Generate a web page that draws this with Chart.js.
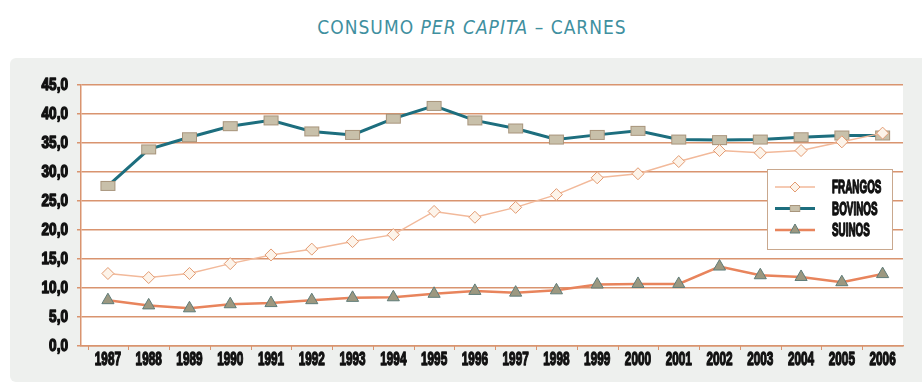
<!DOCTYPE html>
<html lang="pt">
<head>
<meta charset="utf-8">
<title>Consumo per capita – carnes</title>
<script src="https://cdn.jsdelivr.net/npm/chart.js@4/dist/chart.umd.min.js"></script>
<style>
  html, body { margin: 0; padding: 0; background: #ffffff; }
  body { width: 922px; height: 387px; position: relative; overflow: hidden; }
  #title {
    position: absolute; left: 0; top: 16px; width: 944px; text-align: center;
    font-family: 'Liberation Sans Narrow', 'DejaVu Sans Condensed', sans-serif;
    font-size: 19px; letter-spacing: 1px; color: #3f90a0; font-weight: normal;
  }
  #title i { font-style: italic; }
  #panel {
    position: absolute; left: 10px; top: 58px; width: 912px; height: 324px;
    background: #eef0ee; border-radius: 6px 0 0 6px;
  }
  #chart { position: absolute; left: 0; top: 0; }
</style>
</head>
<body>
<div id="title">CONSUMO <i>PER CAPITA</i> – CARNES</div>
<div id="panel"><canvas id="chart" width="912" height="324"></canvas></div>
<script>
// Consumo anual por habitante (kg)
const anos = ['1987','1988','1989','1990','1991','1992','1993','1994','1995','1996',
              '1997','1998','1999','2000','2001','2002','2003','2004','2005','2006'];
const frangos = [12.5, 11.8, 12.5, 14.2, 15.7, 16.7, 18.0, 19.2, 23.2, 22.2,
                 23.9, 26.1, 29.0, 29.7, 31.8, 33.7, 33.3, 33.7, 35.2, 36.7];
const bovinos = [27.6, 33.9, 36.0, 37.9, 38.9, 37.0, 36.4, 39.2, 41.4, 38.9,
                 37.5, 35.6, 36.4, 37.1, 35.6, 35.5, 35.6, 36.0, 36.3, 36.3];
const suinos  = [7.9, 7.0, 6.5, 7.2, 7.4, 7.9, 8.3, 8.4, 9.0, 9.5,
                 9.2, 9.6, 10.6, 10.7, 10.7, 13.7, 12.2, 11.9, 11.0, 12.4];
const nomes = ['FRANGOS', 'BOVINOS', 'SUINOS'];
const yTicks = [0, 5, 10, 15, 20, 25, 30, 35, 40, 45];

const FONT = "'Liberation Sans', 'DejaVu Sans', sans-serif";
const GRID = '#d9946f';
const INK = '#111111';

// Pair each year index with its value
const pontos = serie => serie.map((v, i) => ({ x: i, y: v }));

// Rectangular marker for the BOVINOS series
function rectMarker(w, h, fill, stroke) {
  const c = document.createElement('canvas');
  c.width = w + 2; c.height = h + 2;
  const g = c.getContext('2d');
  g.fillStyle = fill; g.fillRect(1, 1, w, h);
  g.strokeStyle = stroke; g.lineWidth = 1; g.strokeRect(1.5, 1.5, w - 1, h - 1);
  return c;
}
const bovMarker = rectMarker(15, 10, '#c8c0aa', '#a8957c');

// Heavy, horizontally squeezed lettering used for ticks and legend
function squeezed(ctx, text, x, y, size, sx, align) {
  ctx.save();
  ctx.font = 'bold ' + size + 'px ' + FONT;
  ctx.fillStyle = INK; ctx.strokeStyle = INK; ctx.lineWidth = 1.4;
  ctx.lineJoin = 'round';
  ctx.textBaseline = 'middle';
  ctx.textAlign = align;
  ctx.translate(x, y);
  ctx.scale(sx, 1);
  ctx.fillText(text, 0, 0);
  ctx.strokeText(text, 0, 0);
  ctx.restore();
}

// White plotting area on the grey panel
const plotBg = {
  id: 'plotBg',
  beforeDraw(chart) {
    const { ctx, chartArea: a } = chart;
    ctx.save();
    ctx.fillStyle = '#ffffff';
    ctx.fillRect(a.left, a.top, a.right - a.left, a.bottom - a.top);
    ctx.restore();
  }
};

// Tick labels and the small marks between years on the bottom axis
const axisText = {
  id: 'axisText',
  afterDraw(chart) {
    const { ctx, scales: { x, y } } = chart;
    ctx.save();
    ctx.strokeStyle = GRID; ctx.lineWidth = 1;
    for (let i = -1; i < anos.length; i++) {
      const px = Math.round(x.getPixelForValue(i + 0.5)) + 0.5;
      if (px < x.left || px > x.right) continue;
      ctx.beginPath(); ctx.moveTo(px, x.top); ctx.lineTo(px, x.top + 4); ctx.stroke();
    }
    ctx.restore();
    anos.forEach((a, i) => squeezed(ctx, a, x.getPixelForValue(i), x.top + 14, 19, 0.62, 'center'));
    yTicks.forEach(v => squeezed(ctx, v.toFixed(1).replace('.', ','), 58, y.getPixelForValue(v), 17, 0.8, 'right'));
  }
};

// Boxed legend inside the plot, right side
const boxLegend = {
  id: 'boxLegend',
  afterDraw(chart) {
    const { ctx } = chart;
    const x = 757, y = 111, w = 125, h = 80;
    ctx.save();
    ctx.fillStyle = '#ffffff';
    ctx.fillRect(x, y, w, h);
    ctx.strokeStyle = '#c9a88e'; ctx.lineWidth = 1;
    ctx.strokeRect(x + 0.5, y + 0.5, w, h);
    chart.data.datasets.forEach((ds, i) => {
      const cy = y + 18 + i * 21.5;
      ctx.strokeStyle = ds.borderColor; ctx.lineWidth = ds.borderWidth;
      ctx.beginPath(); ctx.moveTo(x + 8, cy); ctx.lineTo(x + 48, cy); ctx.stroke();
      const mx = x + 28;
      ctx.lineWidth = 1;
      if (ds.pointStyle === 'rectRot') {
        ctx.fillStyle = ds.pointBackgroundColor; ctx.strokeStyle = ds.pointBorderColor;
        ctx.beginPath(); ctx.moveTo(mx, cy - 5); ctx.lineTo(mx + 5, cy); ctx.lineTo(mx, cy + 5); ctx.lineTo(mx - 5, cy); ctx.closePath();
        ctx.fill(); ctx.stroke();
      } else if (ds.pointStyle === 'triangle') {
        ctx.fillStyle = ds.pointBackgroundColor; ctx.strokeStyle = ds.pointBorderColor;
        ctx.beginPath(); ctx.moveTo(mx, cy - 6); ctx.lineTo(mx + 5, cy + 3); ctx.lineTo(mx - 5, cy + 3); ctx.closePath();
        ctx.fill(); ctx.stroke();
      } else {
        ctx.drawImage(ds.pointStyle, mx - 6, cy - 4, 12, 8);
      }
      squeezed(ctx, ds.label, x + 65, cy + 1, 19, 0.52, 'left');
    });
    ctx.restore();
  }
};

new Chart(document.getElementById('chart'), {
  type: 'line',
  data: {
    datasets: [
      {
        label: nomes[0], data: pontos(frangos),
        borderColor: '#f2b99a', borderWidth: 1.5,
        pointStyle: 'rectRot', pointRadius: 6, pointBorderWidth: 1,
        pointBackgroundColor: '#fdf4ea', pointBorderColor: '#e39b72', order: 1
      },
      {
        label: nomes[1], data: pontos(bovinos),
        borderColor: '#1d6e7e', borderWidth: 3,
        pointStyle: bovMarker, order: 2
      },
      {
        label: nomes[2], data: pontos(suinos),
        borderColor: '#e8845c', borderWidth: 2.5,
        pointStyle: 'triangle', pointRadius: 7, pointBorderWidth: 1,
        pointBackgroundColor: '#9c9880', pointBorderColor: '#5f7c78', order: 3
      }
    ]
  },
  options: {
    responsive: false,
    animation: false,
    layout: { padding: { top: 27, right: 19, left: 0, bottom: 0 } },
    plugins: { legend: { display: false }, tooltip: { enabled: false } },
    scales: {
      x: {
        type: 'linear', min: -0.66, max: 19.5,
        afterBuildTicks(s) { s.ticks = anos.map((a, i) => ({ value: i })); },
        grid: { display: false },
        border: { color: GRID, width: 1.5 },
        ticks: { color: 'transparent', callback: v => anos[v], autoSkip: false, maxRotation: 0 },
        afterFit(s) { s.height = 36; }
      },
      y: {
        min: 0, max: 45,
        afterBuildTicks(s) { s.ticks = yTicks.map(v => ({ value: v })); },
        grid: { color: GRID, lineWidth: 1.5, tickLength: 4 },
        border: { color: GRID, width: 1.5 },
        ticks: { color: 'transparent', callback: v => v.toFixed(1).replace('.', ',') },
        afterFit(s) { s.width = 71; }
      }
    }
  },
  plugins: [plotBg, axisText, boxLegend]
});
</script>
</body>
</html>
